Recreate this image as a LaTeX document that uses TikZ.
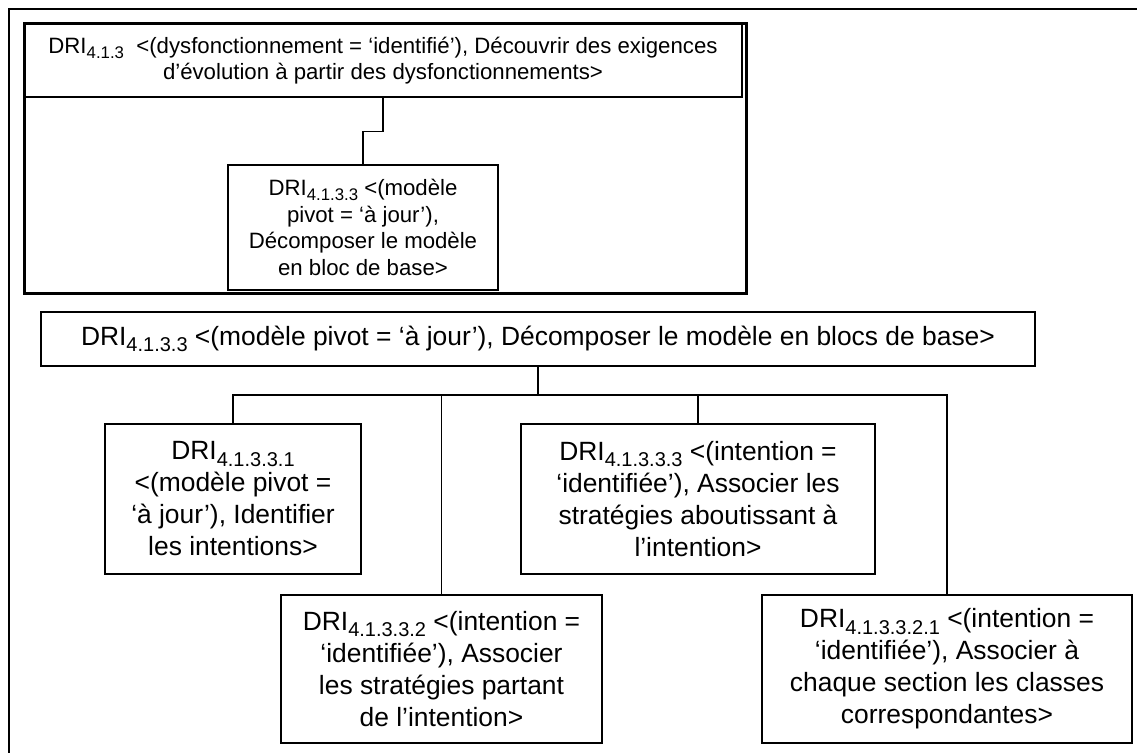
\documentclass[tikz,border=0pt]{standalone}
\usepackage{fontspec}
\setmainfont{Liberation Sans}
\newcommand\tsub[1]{\raisebox{-0.45ex}{\fontsize{8.4}{9}\selectfont #1}}
\newcommand\lsub[1]{\raisebox{-0.45ex}{\fontsize{10}{11}\selectfont #1}}
\begin{document}
\begin{tikzpicture}[x=0.5pt,y=-0.5pt,
  box/.style={draw, line width=0.7pt, inner sep=0pt, align=center},
  topfont/.style={font=\fontsize{11.1}{13.3}\selectfont},
  lowfont/.style={font=\fontsize{13.2}{16}\selectfont},
  link/.style={line width=0.65pt}]
\useasboundingbox (0,0) rectangle (1137,753);
% outer frame (only top and left visible)
\draw[line width=1pt] (1137,9) -- (9,9) -- (9,753);
% upper container
\draw[line width=1.5pt] (24,24) rectangle (746,294);
\node[box, line width=1.4pt, topfont, minimum width=359pt, minimum height=36.5pt] (b1) at (383,60.5)
 {DRI\tsub{4.1.3}\ \ <(dysfonctionnement = ‘identifié’), Découvrir des exigences\\d’évolution à partir des dysfonctionnements>};
\node[box, topfont, minimum width=135pt, minimum height=62.5pt] (b2) at (363,227.5)
 {DRI\tsub{4.1.3.3} <(modèle\\pivot = ‘à jour’),\\Décomposer le modèle\\en bloc de base>};
\draw[link] (b1.south) -- ++(0,33) -| (b2.north);
% lower tree
\node[box, lowfont, minimum width=497pt, minimum height=27pt] (big) at (538,339)
 {DRI\lsub{4.1.3.3} <(modèle pivot = ‘à jour’), Décomposer le modèle en blocs de base>};
\node[box, lowfont, minimum width=128pt, minimum height=75pt] (a) at (233,499)
 {DRI\lsub{4.1.3.3.1}\\<(modèle pivot =\\‘à jour’), Identifier\\les intentions>};
\node[box, lowfont, minimum width=177pt, minimum height=75pt] (c) at (698,499)
 {DRI\lsub{4.1.3.3.3} <(intention =\\‘identifiée’), Associer les\\stratégies aboutissant à\\l’intention>};
\node[box, lowfont, minimum width=160.5pt, minimum height=74pt] (b) at (441.5,669)
 {DRI\lsub{4.1.3.3.2} <(intention =\\‘identifiée’), Associer\\les stratégies partant\\de l’intention>};
\node[box, lowfont, minimum width=185pt, minimum height=74pt] (d) at (947,669)
 {DRI\lsub{4.1.3.3.2.1} <(intention =\\‘identifiée’), Associer à\\chaque section les classes\\correspondantes>};
\coordinate (bus) at (537,395);
\draw[link] (big.south) -- (big.south |- bus);
\draw[link] (a.north) |- (bus) -| (d.north);
\draw[link] (b.north) -- (b.north |- bus);
\draw[link] (c.north) -- (c.north |- bus);
\end{tikzpicture}
\end{document}
